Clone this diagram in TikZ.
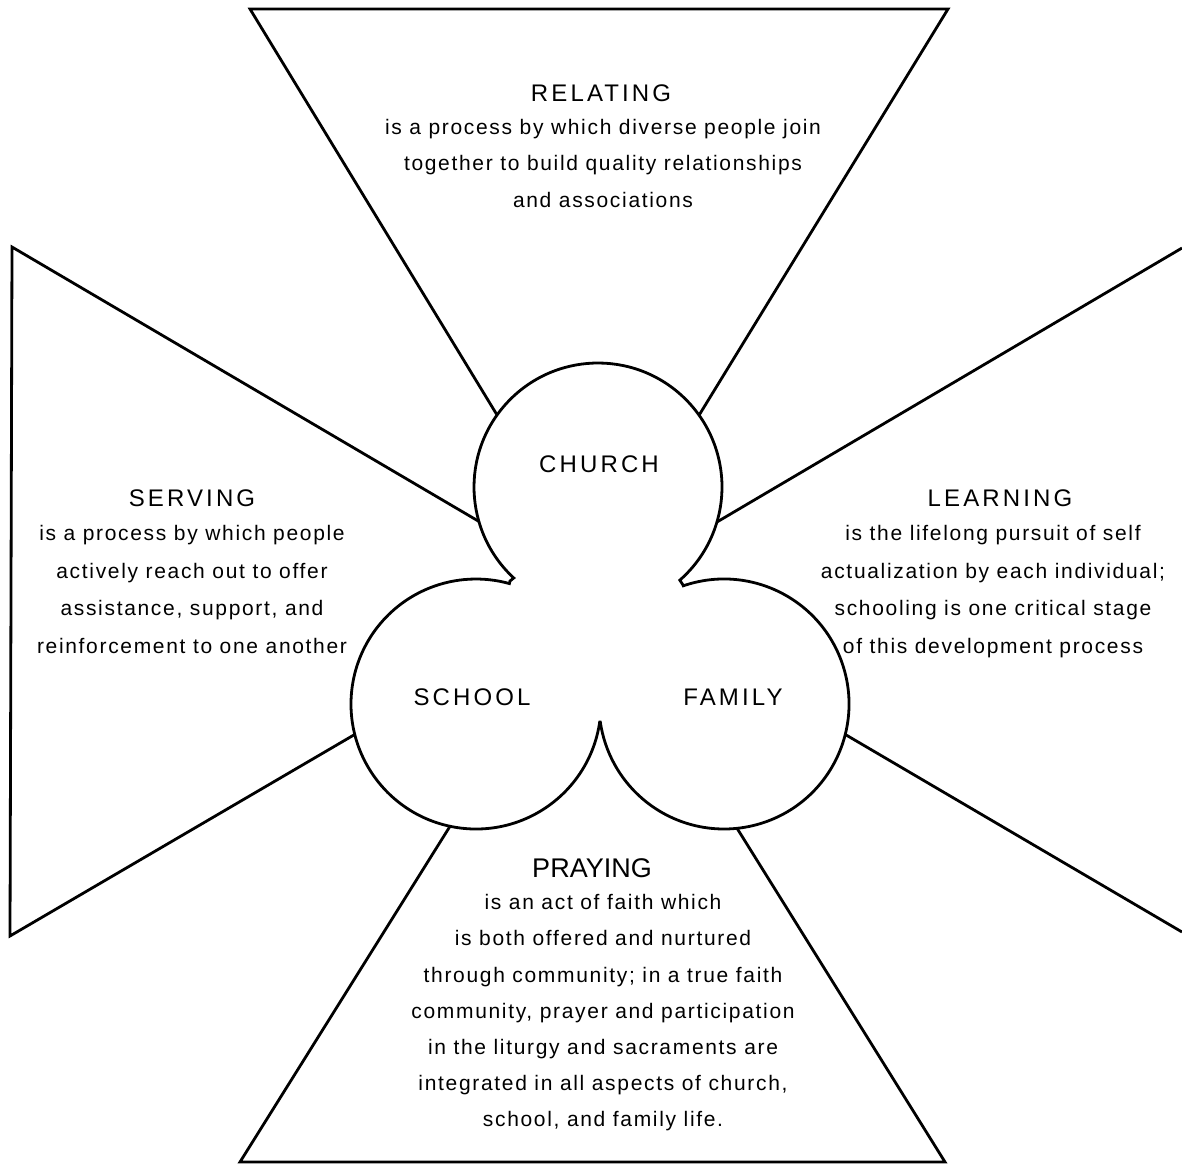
\documentclass[tikz,border=0pt]{standalone}
\usepackage{fontspec}
\setmainfont{Liberation Sans}
\newfontfamily\ttlfont[LetterSpace=13]{Liberation Sans}
\newfontfamily\bdyfont[LetterSpace=8]{Liberation Sans}
\usetikzlibrary{calc}
\begin{document}
\begin{tikzpicture}[x=0.5pt,y=-0.5pt,
  outline/.style={line width=1.4pt, line join=miter},
  ray/.style={line width=1.4pt, line join=miter},
  ttl/.style={font=\ttlfont\fontsize{12}{14}\selectfont, inner sep=0pt, anchor=base},
  bigttl/.style={font=\fontsize{13.5}{16}\selectfont, inner sep=0pt, anchor=base},
  body/.style={font=\bdyfont\fontsize{10.5}{18.1}\selectfont, align=center, inner sep=0pt, anchor=north},
  bodywide/.style={body, font=\bdyfont\fontsize{10.5}{18.8}\selectfont},
]
\useasboundingbox (0,0) rectangle (1182,1167);
% circle centres and cusps
\coordinate (C) at (598,487);
\coordinate (S) at (476,704);
\coordinate (F) at (724,704);
\coordinate (L) at (510,581);
\coordinate (R) at (683,585);
\coordinate (B) at (600,722);
% outer corners of the rays
\coordinate (t1) at (250,9);
\coordinate (t2) at (948,9);
\coordinate (s1) at (12,247);
\coordinate (s2) at (10,936);
\coordinate (e1) at (1182,248);
\coordinate (e2) at (1182,932);
\coordinate (p1) at (240,1162);
\coordinate (p2) at (945,1162);
% junctions on the circles
\coordinate (jtl) at ($(C)+(215.5:124)$);
\coordinate (jtr) at ($(C)+(-35.4:124)$);
\coordinate (jsl) at ($(C)+(163.9:124)$);
\coordinate (jsr) at ($(C)+(16.4:124)$);
\coordinate (jll) at ($(S)+(165.9:125)$);
\coordinate (jlr) at ($(F)+(14.1:125)$);
\coordinate (jbl) at ($(S)+(102:125)$);
\coordinate (jbr) at ($(F)+(84:125)$);

% trefoil outline
\draw[outline] (L) -- ($(C)+(132.8:124)$) arc[start angle=132.8, end angle=408.7, radius=124]
  -- (R) -- ($(F)+(-109:125)$) arc[start angle=-109, end angle=171.7, radius=125]
  -- (B) -- ($(S)+(8.3:125)$) arc[start angle=8.3, end angle=285.5, radius=125] -- cycle;

% rays
\draw[ray] (jtl) -- (t1) -- (t2) -- (jtr);
\draw[ray] (jsl) -- (s1) -- (s2) -- (jll);
\draw[ray] (jsr) -- (e1);
\draw[ray] (jlr) -- (e2);
\draw[ray] (jbl) -- (p1) -- (p2) -- (jbr);

% circle labels
\node[ttl] (church) at (599,472.5) {CHURCH};
\node[ttl] (school) at (472,705) {SCHOOL};
\node[ttl] (family) at (733,705) {FAMILY};

% ray texts
\node[ttl] (relT) at (601,101) {RELATING};
\node[body] (relB) at (603,119) {is a process by which diverse people join\\together to build quality relationships\\and associations};

\node[ttl] (serT) at (192,506) {SERVING};
\node[bodywide] (serB) at (192,525) {is a process by which people\\actively reach out to offer\\assistance, support, and\\reinforcement to one another};

\node[ttl] (leaT) at (1000,506) {LEARNING};
\node[bodywide] (leaB) at (993,525) {is the lifelong pursuit of self\\actualization by each individual;\\schooling is one critical stage\\of this development process};

\node[bigttl] (prT) at (592,877) {PRAYING};
\node[body] (prB) at (603,894) {is an act of faith which\\is both offered and nurtured\\through community; in a true faith\\community, prayer and participation\\in the liturgy and sacraments are\\integrated in all aspects of church,\\school, and family life.};
\end{tikzpicture}
\end{document}
